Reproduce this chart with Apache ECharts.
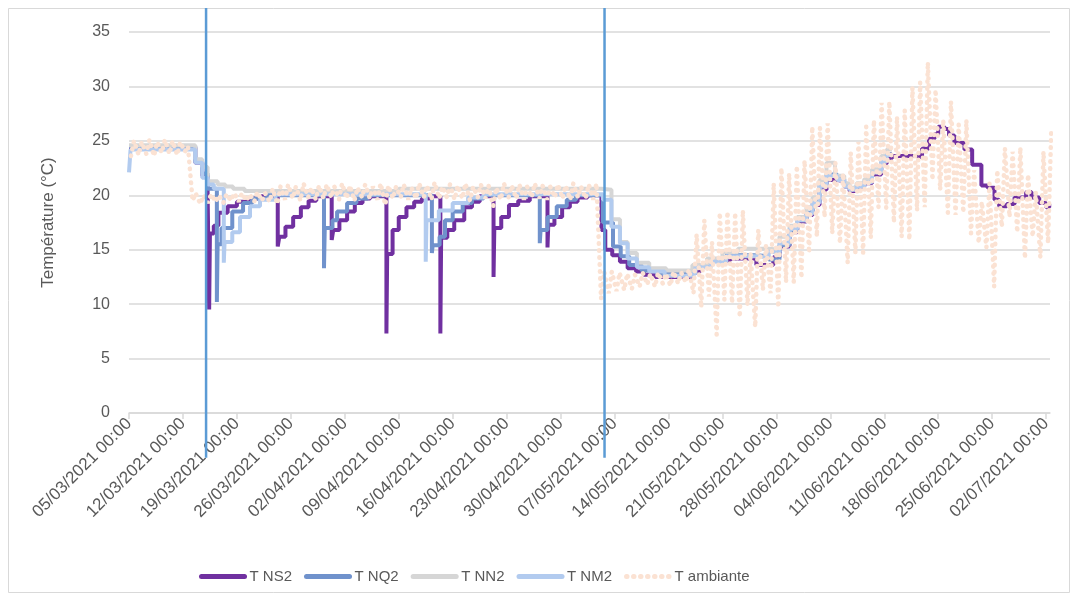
<!DOCTYPE html>
<html>
<head>
<meta charset="utf-8">
<title>Températures</title>
<script src="https://cdn.jsdelivr.net/npm/echarts/dist/echarts.min.js"></script>
<style>
  html, body { margin: 0; padding: 0; background: #fff; }
  #chart { width: 1078px; height: 598px; }
</style>
</head>
<body>
<div id="chart"></div>
<script>
// jours depuis le 05/03/2021 00:00
const xTickLabels = ['05/03/2021 00:00', '12/03/2021 00:00', '19/03/2021 00:00', '26/03/2021 00:00',
  '02/04/2021 00:00', '09/04/2021 00:00', '16/04/2021 00:00', '23/04/2021 00:00', '30/04/2021 00:00',
  '07/05/2021 00:00', '14/05/2021 00:00', '21/05/2021 00:00', '28/05/2021 00:00', '04/06/2021 00:00',
  '11/06/2021 00:00', '18/06/2021 00:00', '25/06/2021 00:00', '02/07/2021 00:00'];

// [jour, température] — paliers
const tNS2 = [[0, 24.4], [8.6, 23.0], [9.5, 21.8], [10.2, 20.2], [10.4, 9.5], [10.5, 16.5], [11.0, 17.2], [11.6, 18.4],
  [12.8, 19.0], [14.0, 19.4], [15.5, 19.7], [17.0, 19.9],
  [19.3, 15.3], [19.5, 16.2], [20.3, 17.1], [21.3, 18.0], [22.3, 18.9], [23.3, 19.5], [24.3, 19.9],
  [26.3, 15.9], [26.5, 16.8], [27.3, 17.7], [28.3, 18.5], [29.3, 19.3], [30.3, 19.7], [31.3, 19.9],
  [33.4, 7.3], [33.5, 14.6], [34.2, 16.8], [35.0, 18.0], [36.0, 18.9], [37.0, 19.4], [38.0, 19.7], [39.0, 19.9],
  [40.4, 7.3], [40.5, 16.1], [41.3, 16.8], [42.2, 17.7], [43.5, 18.9], [44.5, 19.4], [45.5, 19.9],
  [47.3, 12.5], [47.4, 17.0], [48.3, 18.0], [49.3, 19.1], [50.5, 19.5], [52.0, 19.9],
  [54.3, 15.2], [54.4, 17.3], [55.2, 18.0], [56.2, 18.9], [57.2, 19.4], [58.2, 19.8], [59.5, 20.0],
  [61.3, 16.8], [61.8, 15.0], [62.7, 14.5], [63.7, 13.9], [64.7, 13.3], [65.8, 13.0], [66.8, 12.7], [68.3, 12.5],
  [73.0, 12.9], [74.0, 13.6], [75.5, 14.0], [78.0, 14.2], [81.4, 13.6], [83.6, 14.3], [84.4, 15.3], [85.7, 16.6],
  [86.7, 17.6], [87.9, 18.2], [88.7, 19.1], [89.6, 20.5], [90.5, 21.4], [91.9, 21.3], [92.8, 20.8], [93.5, 20.4],
  [94.4, 20.8], [95.4, 21.1], [96.4, 21.9], [97.6, 22.9], [98.3, 23.4], [99.0, 23.6], [102.2, 23.5], [102.9, 24.3],
  [103.8, 25.2], [104.5, 25.6], [105.0, 26.3], [105.8, 26.1], [106.4, 25.5], [107.1, 24.8], [108.4, 24.2],
  [109.4, 22.8], [110.6, 20.9], [111.4, 20.7], [112.3, 19.6], [112.9, 19.0], [113.9, 19.2], [114.9, 19.8],
  [116.4, 20.3], [117.1, 19.8], [118.1, 19.3], [119.0, 18.9], [119.4, 19.2]];

const tNQ2 = [[0, 24.5], [8.6, 23.1], [9.5, 22.0], [10.2, 20.6], [11.4, 10.2], [11.5, 15.5], [12.0, 17.0], [13.4, 18.5],
  [14.8, 19.3], [16.0, 19.7], [18.0, 20.0],
  [25.3, 13.3], [25.4, 17.0], [26.4, 17.7], [27.0, 18.5], [28.3, 19.3], [29.5, 19.7], [31.0, 20.0],
  [39.3, 14.7], [39.4, 15.4], [40.3, 16.2], [41.0, 17.7], [42.0, 18.5], [43.3, 19.3], [44.5, 19.7], [46.0, 20.0],
  [53.3, 15.6], [53.4, 16.8], [54.3, 18.0], [55.5, 19.0], [56.8, 19.6], [58.0, 20.0],
  [61.5, 17.5], [62.8, 15.3], [63.8, 14.4], [64.9, 13.6], [66.5, 13.1], [68.5, 12.8], [73.0, 13.1], [73.5, 13.6],
  [75.5, 14.1], [77.5, 14.5], [81.4, 14.4], [83.0, 14.1], [84.4, 15.4], [85.7, 16.8], [86.7, 17.7], [87.9, 18.4],
  [88.7, 19.4], [89.6, 20.9], [90.5, 21.9], [91.9, 21.5], [92.8, 20.9], [93.5, 20.6], [94.4, 20.9], [95.4, 21.3],
  [96.4, 22.2], [97.6, 23.2], [98.3, 23.8], [99.0, 23.8]];

const tNN2 = [[0, 24.6], [8.6, 23.3], [9.5, 22.6], [10.2, 21.3], [11.5, 21.0], [12.5, 20.8], [13.5, 20.6], [15.0, 20.4],
  [35.0, 20.6], [61.3, 20.5], [62.6, 17.8], [63.7, 15.7], [64.7, 14.7], [65.9, 13.8], [67.5, 13.3], [69.7, 13.1],
  [73.1, 13.6], [75.0, 14.2], [77.0, 14.8], [79.0, 15.1], [83.0, 15.0], [84.4, 16.2], [85.7, 17.2], [86.7, 18.0],
  [87.9, 18.9], [88.7, 19.8], [89.6, 21.4], [90.5, 23.0], [91.6, 21.8], [92.8, 21.1], [93.5, 20.7], [94.4, 21.1],
  [95.4, 21.5], [96.4, 22.4], [97.6, 23.6], [98.3, 24.2], [99.0, 24.2]];

const tNM2 = [[0, 22.1], [0.2, 24.2], [8.6, 23.0], [9.5, 21.6], [10.2, 21.0], [11.0, 20.6], [12.3, 13.8], [12.4, 15.7],
  [13.4, 16.6], [14.4, 18.0], [15.7, 19.0], [17.0, 19.6], [19.0, 20.1],
  [38.5, 13.9], [38.6, 17.7], [40.2, 18.6], [42.0, 19.3], [44.0, 19.8], [46.0, 20.1],
  [61.5, 19.6], [62.6, 17.1], [63.7, 15.6], [64.7, 14.2], [65.9, 13.4], [67.5, 13.0], [69.5, 12.6], [73.1, 12.8],
  [73.5, 13.4], [75.5, 13.9], [77.5, 14.4], [81.4, 14.3], [83.0, 14.8], [84.4, 15.6], [85.7, 16.9], [86.7, 17.7],
  [87.9, 18.3], [88.7, 19.3], [89.6, 20.8], [90.5, 21.8], [91.9, 21.4], [92.8, 20.8], [93.5, 20.5], [94.4, 20.8],
  [95.4, 21.2], [96.4, 22.1], [97.6, 23.1], [98.3, 23.7], [99.0, 23.7]];

// T ambiante : minimum et maximum de chaque jour (jour 0 à 119)
const ambMin = [
  23.6, 23.7, 23.8, 23.6, 23.9, 23.8, 23.7, 24.0, 19.5, 19.2,
  19.3, 19.4, 19.3, 19.5, 19.4, 19.5, 19.4, 19.5, 19.4, 19.2,
  19.6, 19.7, 19.5, 19.8, 19.6, 19.7, 19.8, 19.6, 19.7, 19.5,
  19.8, 19.7, 19.6, 19.1, 19.7, 19.8, 19.6, 19.7, 19.8, 19.6,
  19.7, 19.8, 19.6, 19.7, 19.5, 19.8, 19.7, 19.0, 19.6, 19.8,
  19.7, 19.6, 19.8, 19.7, 19.6, 19.8, 19.7, 19.6, 19.8, 19.7,
  19.6, 10.5, 11.0, 11.2, 11.3, 11.4, 11.6, 11.8, 11.6, 11.9,
  11.7, 11.9, 12.0, 11.0, 9.7, 10.7, 7.2, 10.4, 10.1, 8.8,
  9.9, 7.9, 11.3, 11.0, 9.7, 12.0, 12.0, 12.4, 14.7, 16.2,
  18.0, 16.5, 15.6, 13.8, 14.7, 14.7, 16.1, 18.9, 18.8, 17.5,
  16.2, 15.9, 18.6, 18.9, 21.4, 20.5, 18.4, 18.2, 18.4, 16.5,
  15.6, 15.2, 11.6, 17.1, 18.0, 16.6, 14.2, 16.2, 14.3, 15.6];
const ambMax = [
  25.0, 24.9, 25.1, 24.9, 25.1, 25.0, 24.9, 24.5, 20.2, 20.0,
  20.1, 20.0, 20.1, 20.2, 20.2, 20.1, 20.3, 20.2, 20.6, 20.8,
  21.0, 20.8, 21.1, 20.7, 20.9, 21.0, 20.8, 21.1, 20.9, 20.7,
  21.0, 20.8, 21.1, 20.9, 20.8, 21.0, 20.7, 21.1, 20.9, 21.2,
  20.8, 21.0, 20.9, 21.1, 20.8, 21.0, 20.9, 20.7, 21.1, 20.9,
  21.0, 20.8, 21.1, 20.9, 20.8, 21.0, 20.9, 21.1, 20.8, 21.0,
  21.1, 13.0, 13.0, 12.9, 12.8, 12.7, 12.9, 12.8, 12.9, 12.8,
  13.0, 12.9, 13.2, 16.4, 17.7, 15.7, 18.4, 18.5, 18.4, 18.6,
  14.7, 16.8, 15.4, 21.1, 22.5, 22.0, 22.7, 23.2, 26.3, 26.2,
  26.6, 23.0, 22.0, 23.9, 24.9, 26.3, 26.9, 28.5, 28.6, 27.2,
  27.8, 29.9, 30.4, 32.2, 29.7, 26.9, 28.6, 26.5, 26.9, 22.3,
  19.4, 21.1, 22.3, 24.3, 24.0, 24.4, 21.9, 20.3, 24.0, 25.7];
const ambMinHour = 0.25;   // ~06h
const ambMaxHour = 0.65;   // ~15h

// traits verticaux (changements d'essai)
const eventDays = [10.0, 61.7];
const eventSpan = [37.2, -4.1];

const ambData = [];
ambMin.forEach(function (lo, i) {
  ambData.push([i + ambMinHour, lo]);
  ambData.push([i + ambMaxHour, ambMax[i]]);
});

const txt = '#595959';
const grey = '#d9d9d9';
const font = "'Liberation Sans', sans-serif";

function stepLine (name, data, color, width) {
  return {
    name: name,
    type: 'line',
    step: 'end',
    data: data,
    symbol: 'none',
    showSymbol: false,
    lineStyle: { color: color, width: width },
    itemStyle: { color: color }
  };
}

let myChart = echarts.init(document.getElementById('chart'));
let option = {
  animation: false,
  backgroundColor: '#fff',
  graphic: [{
    type: 'rect',
    silent: true,
    z: -10,
    shape: { x: 8.5, y: 8.5, width: 1061, height: 584 },
    style: { fill: 'none', stroke: grey, lineWidth: 1 }
  }],
  grid: { left: 129, right: 28, top: 32, bottom: 185 },
  legend: {
    data: ['T NS2', 'T NQ2', 'T NN2', 'T NM2', 'T ambiante'],
    left: 194,
    top: 564,
    itemWidth: 43,
    itemHeight: 14,
    itemGap: 12,
    itemStyle: { opacity: 0 },
    lineStyle: { width: 5, cap: 'round' },
    textStyle: { color: txt, fontSize: 15, fontFamily: font }
  },
  xAxis: {
    type: 'value',
    min: 0,
    max: 119.5,
    interval: 7,
    axisLine: { lineStyle: { color: grey, width: 1.5 } },
    axisTick: { show: true, length: 6, lineStyle: { color: grey, width: 1.5 } },
    splitLine: { show: false },
    axisLabel: {
      rotate: 45,
      margin: 8,
      color: txt,
      fontSize: 17,
      fontFamily: font,
      formatter: function (v) { return xTickLabels[Math.round(v / 7)] || ''; }
    }
  },
  yAxis: {
    type: 'value',
    min: 0,
    max: 35,
    interval: 5,
    name: 'Température (°C)',
    nameLocation: 'middle',
    nameRotate: 90,
    nameGap: 72,
    nameTextStyle: { color: txt, fontSize: 17, fontFamily: font },
    axisLine: { show: false },
    axisTick: { show: false },
    axisLabel: { color: txt, fontSize: 16, margin: 19, fontFamily: font },
    splitLine: { lineStyle: { color: grey, width: 1.5 } }
  },
  series: [
    stepLine('T NS2', tNS2, '#7030a0', 4),
    stepLine('T NQ2', tNQ2, '#7092cc', 4),
    stepLine('T NN2', tNN2, '#d6d6d6', 4),
    stepLine('T NM2', tNM2, '#b2cbef', 4),
    {
      name: 'T ambiante',
      type: 'line',
      data: ambData,
      symbol: 'none',
      showSymbol: false,
      lineStyle: { color: '#fbe2d3', width: 4.5, type: [0.5, 6.5], cap: 'round' },
      itemStyle: { color: '#fbe2d3' }
    },
    {
      name: 'evenements',
      type: 'custom',
      clip: false,
      silent: true,
      z: 5,
      data: eventDays.map(function (d) { return [d, eventSpan[0], eventSpan[1]]; }),
      encode: { x: 0, y: [1, 2] },
      renderItem: function (params, api) {
        const top = api.coord([api.value(0), api.value(1)]);
        const bot = api.coord([api.value(0), api.value(2)]);
        return {
          type: 'line',
          shape: { x1: top[0], y1: top[1], x2: bot[0], y2: bot[1] },
          style: { stroke: '#5b9bd5', lineWidth: 2.5 }
        };
      }
    }
  ]
};
myChart.setOption(option);
window.addEventListener('resize', function () { myChart.resize() })
</script>
</body>
</html>
